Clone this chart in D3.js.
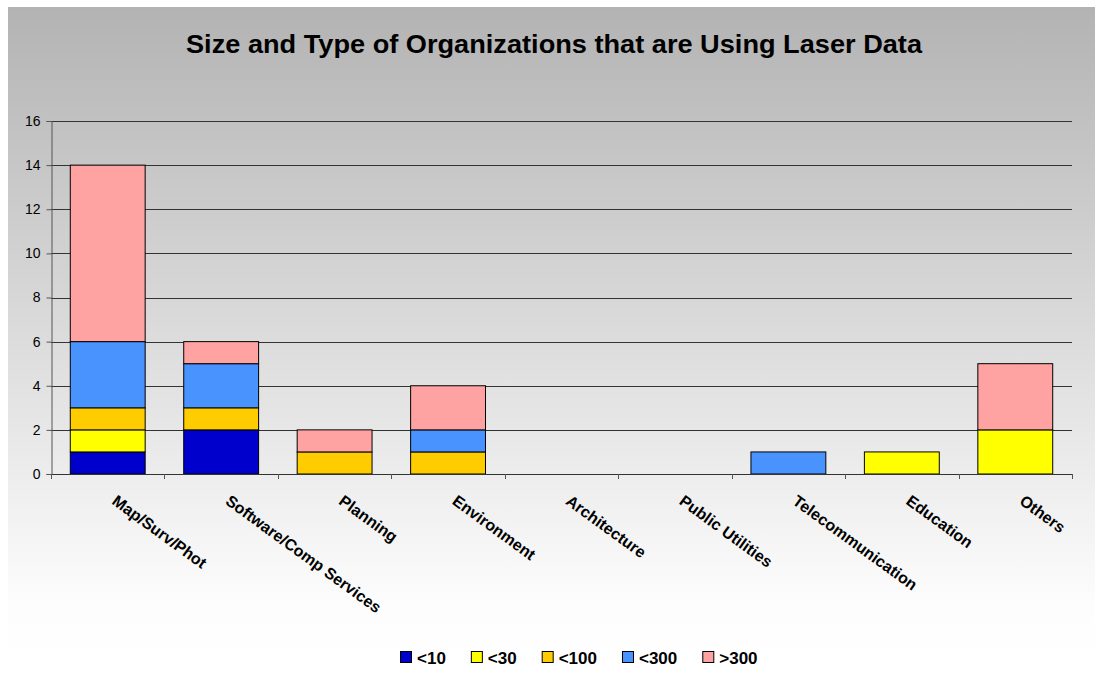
<!DOCTYPE html>
<html>
<head>
<meta charset="utf-8">
<script src="https://cdn.jsdelivr.net/npm/d3@7"></script>
<style>
  html, body { margin: 0; padding: 0; background: #ffffff; }
  svg { display: block; font-family: Arial, "Liberation Sans", sans-serif; }
</style>
</head>
<body>
<svg id="chart" width="1095" height="673"></svg>
<script>
// Organization categories along the x axis
const categories = ["Map/Surv/Phot", "Software/Comp Services", "Planning", "Environment",
  "Architecture", "Public Utilities", "Telecommunication", "Education", "Others"];

// Size classes (stack order bottom to top)
const sizeClasses = ["<10", "<30", "<100", "<300", ">300"];

// Counts per size class, one value per category
const under10  = [1, 2, 0, 0, 0, 0, 0, 0, 0];
const under30  = [1, 0, 0, 0, 0, 0, 0, 1, 2];
const under100 = [1, 1, 1, 1, 0, 0, 0, 0, 0];
const under300 = [3, 2, 0, 1, 0, 0, 1, 0, 0];
const over300  = [8, 1, 1, 2, 0, 0, 0, 0, 3];

const yTicks = [0, 2, 4, 6, 8, 10, 12, 14, 16];
const colors = ["#0000cc", "#ffff00", "#ffcc00", "#4993ff", "#ffa2a2"];

const seriesValues = [under10, under30, under100, under300, over300];
const rows = categories.map((c, i) => {
  const r = { category: c };
  sizeClasses.forEach((s, k) => { r[s] = seriesValues[k][i]; });
  return r;
});

const svg = d3.select("#chart");

// Chart area background: grey at the top fading to white
const defs = svg.append("defs");
const grad = defs.append("linearGradient")
  .attr("id", "bgGrad").attr("x1", 0).attr("y1", 0).attr("x2", 0).attr("y2", 1);
grad.append("stop").attr("offset", "0%").attr("stop-color", "#b3b3b3");
grad.append("stop").attr("offset", "90%").attr("stop-color", "#fdfdfd");
grad.append("stop").attr("offset", "100%").attr("stop-color", "#ffffff");

svg.append("rect")
  .attr("x", 8).attr("y", 7).attr("width", 1087).attr("height", 666)
  .attr("fill", "url(#bgGrad)");

// Title
svg.append("text")
  .attr("x", 554).attr("y", 53)
  .attr("text-anchor", "middle")
  .attr("font-size", 25).attr("font-weight", "bold")
  .attr("textLength", 736).attr("lengthAdjust", "spacingAndGlyphs")
  .attr("fill", "#000")
  .text("Size and Type of Organizations that are Using Laser Data");

const plot = { left: 51, right: 1072, top: 121, bottom: 474 };

const x = d3.scaleBand()
  .domain(categories)
  .range([plot.left, plot.right])
  .paddingInner(0.34)
  .paddingOuter(0.17);

const y = d3.scaleLinear().domain([0, 16]).range([plot.bottom, plot.top]);

// Horizontal gridlines
svg.append("g")
  .selectAll("line")
  .data(yTicks.filter(t => t > 0))
  .join("line")
  .attr("x1", plot.left).attr("x2", plot.right)
  .attr("y1", d => Math.round(y(d)) + 0.5).attr("y2", d => Math.round(y(d)) + 0.5)
  .attr("stroke", "#333").attr("stroke-width", 1);

// Stacked bars
const stack = d3.stack().keys(sizeClasses);
const layers = stack(rows);

svg.append("g")
  .selectAll("g")
  .data(layers)
  .join("g")
  .attr("fill", (d, i) => colors[i])
  .selectAll("rect")
  .data(d => d.filter(p => p[1] - p[0] > 0))
  .join("rect")
  .attr("x", d => x(d.data.category))
  .attr("width", x.bandwidth())
  .attr("y", d => y(d[1]))
  .attr("height", d => y(d[0]) - y(d[1]))
  .attr("stroke", "#000").attr("stroke-width", 1);

// Y axis
const yAxis = svg.append("g")
  .attr("transform", `translate(${plot.left + 0.5},0)`)
  .call(d3.axisLeft(y).tickValues(yTicks).tickSize(5).tickPadding(6).tickFormat(d3.format("d")));
yAxis.select(".domain").attr("stroke", "#555");
yAxis.selectAll(".tick line").attr("stroke", "#555");
yAxis.selectAll(".tick text")
  .attr("font-size", 14).attr("fill", "#000")
  .attr("font-family", "Arial, 'Liberation Sans', sans-serif");

// X axis line with ticks at category boundaries
const xAxisG = svg.append("g");
xAxisG.append("line")
  .attr("x1", plot.left).attr("x2", plot.right)
  .attr("y1", plot.bottom + 0.5).attr("y2", plot.bottom + 0.5)
  .attr("stroke", "#333");
const step = x.step();
const boundaries = d3.range(categories.length + 1).map(i => plot.left + i * step);
xAxisG.selectAll("line.tk")
  .data(boundaries)
  .join("line")
  .attr("class", "tk")
  .attr("x1", d => Math.round(d) + 0.5).attr("x2", d => Math.round(d) + 0.5)
  .attr("y1", plot.bottom).attr("y2", plot.bottom + 5)
  .attr("stroke", "#555");

// Rotated category labels
xAxisG.selectAll("text")
  .data(categories)
  .join("text")
  .attr("transform", d => `translate(${x(d) + x.bandwidth() / 2 + 10},${plot.bottom + 20}) rotate(36)`)
  .attr("dy", "0.72em")
  .attr("text-anchor", "start")
  .attr("font-size", 16).attr("font-weight", "bold")
  .attr("fill", "#000")
  .text(d => d);

// Legend
const legend = svg.append("g").attr("transform", "translate(400,651)");
let lx = 0;
sizeClasses.forEach((s, i) => {
  const g = legend.append("g").attr("transform", `translate(${lx},0)`);
  g.append("rect")
    .attr("x", 0.5).attr("y", 0.5).attr("width", 11).attr("height", 11)
    .attr("fill", colors[i]).attr("stroke", "#000").attr("stroke-width", 1);
  const t = g.append("text")
    .attr("x", 17).attr("y", 13)
    .attr("font-size", 17).attr("font-weight", "bold").attr("fill", "#000")
    .text(s);
  lx += 17 + t.node().getComputedTextLength() + 25;
});
</script>
</body>
</html>
